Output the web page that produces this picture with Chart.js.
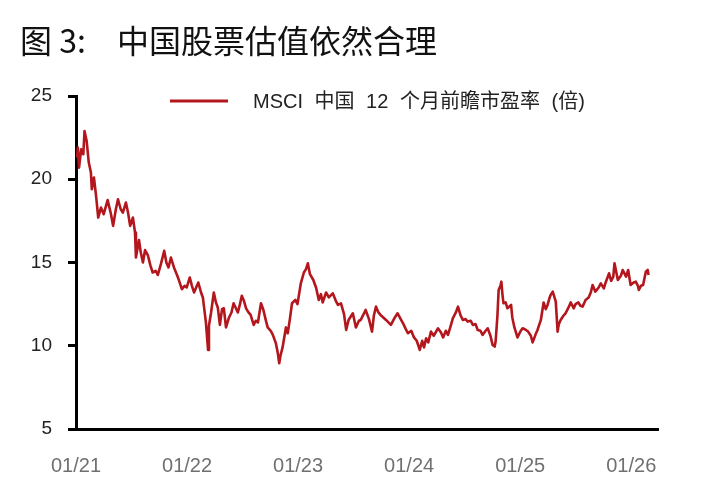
<!DOCTYPE html>
<html>
<head>
<meta charset="utf-8">
<script src="https://cdn.jsdelivr.net/npm/chart.js@4.4.0/dist/chart.umd.min.js"></script>
<style>
  html, body { margin: 0; padding: 0; background: #fff; }
  #wrap { width: 715px; height: 487px; position: relative; }
</style>
</head>
<body>
<div id="wrap"><canvas id="peChart"></canvas></div>
<script>
// 图 3 数据：MSCI 中国 12 个月前瞻市盈率 (倍)
const dates = [
  '2021-01-04','2021-01-07','2021-01-11','2021-01-18','2021-01-25','2021-01-29','2021-02-05','2021-02-12','2021-02-19','2021-02-22',
  '2021-03-01','2021-03-08','2021-03-15','2021-03-24','2021-04-02','2021-04-15','2021-04-26','2021-05-03','2021-05-12','2021-05-19',
  '2021-05-28','2021-06-04','2021-06-14','2021-06-21','2021-06-28','2021-07-07','2021-07-14','2021-07-17','2021-07-27','2021-08-02',
  '2021-08-09','2021-08-16','2021-08-25','2021-09-03','2021-09-10','2021-09-20','2021-09-27','2021-10-07','2021-10-18','2021-10-25',
  '2021-11-01','2021-11-09','2021-11-19','2021-11-29','2021-12-06','2021-12-15','2021-12-24','2021-12-31','2022-01-10','2022-01-17',
  '2022-01-24','2022-01-31','2022-02-07','2022-02-16','2022-02-22','2022-03-04','2022-03-11','2022-03-14','2022-03-21','2022-03-30',
  '2022-04-06','2022-04-12','2022-04-19','2022-04-26','2022-05-02','2022-05-09','2022-05-19','2022-05-27','2022-06-03','2022-06-17',
  '2022-06-24','2022-06-30','2022-07-07','2022-07-14','2022-07-22','2022-07-29','2022-08-08','2022-08-15','2022-08-22','2022-09-01',
  '2022-09-09','2022-09-16','2022-09-23','2022-10-03','2022-10-10','2022-10-20','2022-10-26','2022-10-31','2022-11-04','2022-11-11',
  '2022-11-22','2022-11-28','2022-12-05','2022-12-12','2022-12-23','2022-12-30','2023-01-10','2023-01-20','2023-01-27','2023-02-02',
  '2023-02-09','2023-02-20','2023-03-01','2023-03-10','2023-03-17','2023-03-23','2023-04-03','2023-04-12','2023-04-25','2023-05-05',
  '2023-05-12','2023-05-22','2023-06-01','2023-06-08','2023-06-16','2023-06-30','2023-07-10','2023-07-20','2023-07-26','2023-08-11',
  '2023-08-22','2023-09-01','2023-09-07','2023-09-14','2023-09-22','2023-09-29','2023-10-17','2023-11-02','2023-11-15','2023-11-24',
  '2023-12-12','2023-12-21','2023-12-28','2024-01-08','2024-01-17','2024-01-26','2024-02-05','2024-02-13','2024-02-19','2024-02-26',
  '2024-03-04','2024-03-13','2024-03-22','2024-04-05','2024-04-15','2024-04-22','2024-05-01','2024-05-08','2024-05-17','2024-05-24',
  '2024-06-03','2024-06-10','2024-06-19','2024-06-26','2024-07-05','2024-07-12','2024-07-22','2024-07-29','2024-08-07','2024-08-14',
  '2024-08-23','2024-08-30','2024-09-09','2024-09-16','2024-09-25','2024-10-02','2024-10-09','2024-10-12','2024-10-18','2024-10-22',
  '2024-10-28','2024-10-31','2024-11-04','2024-11-07','2024-11-14','2024-11-20','2024-12-02','2024-12-06','2024-12-13','2024-12-23',
  '2025-01-03','2025-01-09','2025-01-20','2025-01-27','2025-02-05','2025-02-11','2025-02-21','2025-02-27','2025-03-10','2025-03-19',
  '2025-03-26','2025-04-01','2025-04-08','2025-04-11','2025-04-18','2025-04-28','2025-05-04','2025-05-08','2025-05-14','2025-05-23',
  '2025-05-30','2025-06-09','2025-06-16','2025-06-26','2025-07-02','2025-07-11','2025-07-18','2025-07-25','2025-08-04','2025-08-14',
  '2025-08-21','2025-08-27','2025-09-05','2025-09-16','2025-09-23','2025-10-03','2025-10-09','2025-10-20','2025-10-27','2025-11-03',
  '2025-11-07','2025-11-11','2025-11-18','2025-11-28','2025-12-04','2025-12-15','2025-12-22','2025-12-30','2026-01-09','2026-01-16',
  '2026-01-23','2026-01-26','2026-02-02','2026-02-09','2026-02-18','2026-02-24','2026-02-27'
];
const forwardPE = [
  21.3, 21.9, 20.7, 21.8, 21.5, 22.9, 22.3, 21.0, 20.4, 19.4,
  20.1, 19.0, 17.7, 18.3, 17.9, 18.75, 17.9, 17.2, 18.2, 18.8,
  18.2, 18.0, 18.6, 18.0, 17.2, 17.7, 16.8, 15.3, 16.35, 15.6,
  15.0, 15.75, 15.45, 14.8, 14.4, 14.5, 14.25, 14.9, 15.7, 15.0,
  14.7, 15.3, 14.7, 14.25, 13.9, 13.4, 13.6, 13.5, 14.1, 13.6,
  13.2, 13.5, 13.8, 13.2, 12.9, 11.4, 9.75, 11.2, 12.0, 13.2,
  12.6, 12.3, 11.25, 12.2, 12.25, 11.1, 11.7, 12.0, 12.55, 12.0,
  12.5, 13.0, 12.7, 12.25, 12.0, 11.85, 11.25, 11.5, 11.4, 12.55,
  12.15, 11.6, 11.1, 10.9, 10.65, 10.15, 9.6, 8.95, 9.4, 9.9,
  11.1, 10.75, 11.6, 12.55, 12.75, 12.5, 13.75, 14.4, 14.6, 14.95,
  14.3, 13.95, 13.5, 12.75, 13.1, 12.6, 13.2, 12.9, 13.15, 12.7,
  12.45, 12.55, 11.9, 10.95, 11.55, 11.95, 11.1, 11.5, 11.55, 12.15,
  11.6, 10.85, 11.8, 12.35, 12.0, 11.85, 11.55, 11.25, 11.7, 11.95,
  11.35, 11.0, 10.75, 10.9, 10.5, 10.3, 9.75, 10.3, 9.9, 10.45,
  10.2, 10.85, 10.6, 11.05, 10.8, 10.5, 10.9, 10.65, 11.2, 11.65,
  12.0, 12.35, 11.8, 11.55, 11.6, 11.45, 11.5, 11.25, 11.3, 10.95,
  10.9, 10.65, 10.9, 11.05, 10.6, 10.05, 9.95, 10.25, 11.8, 13.35,
  13.6, 13.85, 13.0, 12.55, 12.6, 12.25, 12.45, 11.7, 11.1, 10.5,
  10.9, 11.05, 10.95, 10.85, 10.6, 10.2, 10.7, 10.95, 11.55, 12.6,
  12.2, 12.45, 12.9, 13.05, 13.25, 12.65, 10.85, 11.3, 11.55, 11.8,
  11.95, 12.3, 12.6, 12.25, 12.5, 12.6, 12.4, 12.35, 12.75, 12.9,
  13.2, 13.65, 13.25, 13.5, 13.75, 13.45, 13.8, 14.35, 13.9, 14.15,
  14.95, 14.6, 13.95, 14.2, 14.55, 14.15, 14.55, 13.65, 13.8, 13.85,
  13.6, 13.35, 13.6, 13.65, 14.45, 14.55, 14.25
];
const xTickYears = [2021, 2022, 2023, 2024, 2025, 2026];
const xTickLabels = ['01/21', '01/22', '01/23', '01/24', '01/25', '01/26'];
const yTicks = [5, 10, 15, 20, 25];
const axisEnd = '2026-03-30';
const seriesLabel = 'MSCI 中国 12 个月前瞻市盈率 (倍)';

// 日期 -> 小数年份
function toYear(s) {
  const [y, m, d] = s.split('-').map(Number);
  const t0 = Date.UTC(y, 0, 1), t1 = Date.UTC(y + 1, 0, 1);
  return y + (Date.UTC(y, m - 1, d) - t0) / (t1 - t0);
}

const RED = '#b3161c';

// 标题 + 图例（图例画在绘图区内）
const decor = {
  id: 'decor',
  beforeDraw(chart) {
    const c = chart.ctx;
    c.save();
    c.fillStyle = '#fff';
    c.fillRect(0, 0, chart.width, chart.height);
    c.restore();
  },
  afterDraw(chart) {
    const c = chart.ctx;
    c.save();
    c.fillStyle = '#111';
    c.textBaseline = 'middle';
    c.font = '32px "Liberation Sans Narrow", "Noto Sans CJK SC", sans-serif';
    c.fillText('图 3:', 20, 41);
    c.fillText('中国股票估值依然合理', 117, 41);

    c.strokeStyle = RED;
    c.lineWidth = 3;
    c.beginPath();
    c.moveTo(170, 101);
    c.lineTo(228, 101);
    c.stroke();
    c.fillStyle = '#222';
    c.font = '20px "Liberation Sans", "Noto Sans CJK SC", sans-serif';
    c.wordSpacing = '6px';
    c.fillText(seriesLabel, 253, 102);
    c.restore();
  }
};

new Chart(document.getElementById('peChart'), {
  type: 'line',
  data: {
    datasets: [{
      label: seriesLabel,
      data: dates.map((d, i) => ({ x: toYear(d), y: forwardPE[i] })),
      borderColor: RED,
      borderWidth: 2.6,
      borderJoinStyle: 'round',
      pointRadius: 0,
      tension: 0,
      fill: false
    }]
  },
  options: {
    responsive: true,
    maintainAspectRatio: false,
    animation: false,
    layout: { padding: { left: 0, right: 57, top: 96, bottom: 0 } },
    plugins: {
      legend: { display: false },
      title: { display: false },
      tooltip: { enabled: false }
    },
    scales: {
      x: {
        type: 'linear',
        min: 2021,
        max: toYear(axisEnd),
        afterBuildTicks(s) { s.ticks = xTickYears.map(v => ({ value: v })); },
        afterFit(s) { s.height = 58; },
        ticks: {
          autoSkip: false,
          maxRotation: 0,
          padding: 17,
          color: '#707070',
          font: { family: '"Liberation Sans Narrow", "Liberation Sans", sans-serif', size: 20 },
          callback: v => xTickLabels[xTickYears.indexOf(v)]
        },
        grid: { display: false },
        border: { color: '#000', width: 3 }
      },
      y: {
        min: 5,
        max: 25,
        afterBuildTicks(s) { s.ticks = yTicks.map(v => ({ value: v })); },
        afterFit(s) { s.width = 76; },
        ticks: {
          padding: 16,
          color: '#222',
          font: { family: '"Liberation Sans", sans-serif', size: 19 }
        },
        grid: { drawOnChartArea: false, drawTicks: true, tickLength: 8, color: '#000', lineWidth: 3 },
        border: { color: '#000', width: 3 }
      }
    }
  },
  plugins: [decor]
});
</script>
</body>
</html>
